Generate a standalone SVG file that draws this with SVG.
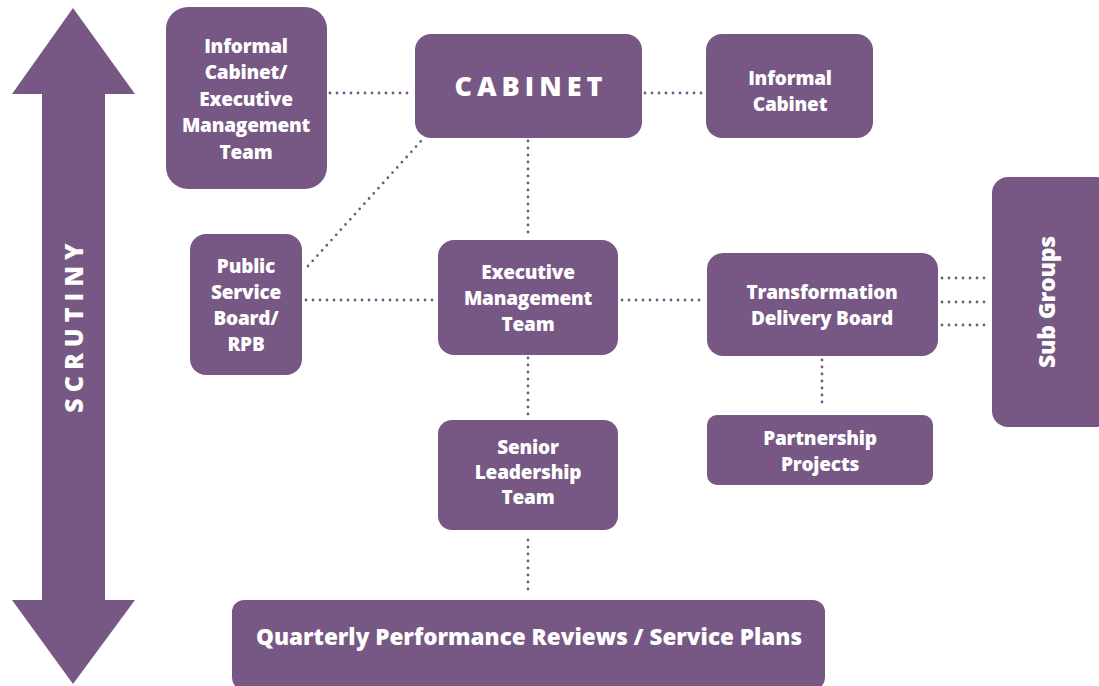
<svg xmlns="http://www.w3.org/2000/svg" width="1099" height="686" viewBox="0 0 1099 686">
<style>
.box{fill:#775885;}
.t{font-family:"Open Sans","Liberation Sans",sans-serif;font-weight:800;fill:#ffffff;text-anchor:middle;font-size:19px;letter-spacing:-0.2px;}
.dot{stroke:#775885;stroke-width:2.8;stroke-linecap:round;stroke-dasharray:0 7;fill:none;}
</style>
<rect width="1099" height="686" fill="#ffffff"/>
<g id="scrutiny">
<polygon class="box" points="73,8 135,94 105,94 105,600 135,600 73,684 12,600 42,600 42,94 12,94"/>
<text class="t" transform="translate(83,325) rotate(-90)" style="font-size:25px;letter-spacing:6px">SCRUTINY</text>
</g>
<g id="connectors">
<line class="dot" x1="330" y1="93" x2="413" y2="93"/>
<line class="dot" x1="645" y1="93" x2="704" y2="93"/>
<line class="dot" x1="308" y1="266" x2="422" y2="140"/>
<line class="dot" x1="528" y1="141" x2="528" y2="238"/>
<line class="dot" x1="306" y1="300" x2="436" y2="300"/>
<line class="dot" x1="622" y1="300" x2="705" y2="300"/>
<line class="dot" x1="528" y1="358" x2="528" y2="418"/>
<line class="dot" x1="942" y1="278" x2="990" y2="278"/>
<line class="dot" x1="942" y1="302" x2="990" y2="302"/>
<line class="dot" x1="942" y1="325" x2="990" y2="325"/>
<line class="dot" x1="822" y1="360" x2="822" y2="408"/>
<line class="dot" x1="528" y1="540" x2="528" y2="592"/>
</g>
<g id="informal-cabinet-emt">
<rect class="box" x="166" y="7" width="161" height="182" rx="22"/>
<text class="t" x="246" y="53">Informal</text>
<text class="t" x="246" y="79">Cabinet/</text>
<text class="t" x="246" y="106">Executive</text>
<text class="t" x="246" y="132">Management</text>
<text class="t" x="246" y="159">Team</text>
</g>
<g id="cabinet">
<rect class="box" x="415" y="34" width="227" height="104" rx="16"/>
<text class="t" x="531" y="96" style="font-size:27px;letter-spacing:5px">CABINET</text>
</g>
<g id="informal-cabinet">
<rect class="box" x="706" y="34" width="167" height="104" rx="16"/>
<text class="t" x="790" y="85">Informal</text>
<text class="t" x="790" y="111">Cabinet</text>
</g>
<g id="psb">
<rect class="box" x="190" y="234" width="112" height="141" rx="16"/>
<text class="t" x="246" y="273">Public</text>
<text class="t" x="246" y="299">Service</text>
<text class="t" x="246" y="325">Board/</text>
<text class="t" x="246" y="351">RPB</text>
</g>
<g id="emt">
<rect class="box" x="438" y="240" width="180" height="115" rx="16"/>
<text class="t" x="528" y="279">Executive</text>
<text class="t" x="528" y="305">Management</text>
<text class="t" x="528" y="331">Team</text>
</g>
<g id="tdb">
<rect class="box" x="707" y="253" width="231" height="103" rx="16"/>
<text class="t" x="822" y="299">Transformation</text>
<text class="t" x="822" y="325">Delivery Board</text>
</g>
<g id="sub-groups">
<rect class="box" x="992" y="177" width="120" height="250" rx="16"/>
<text class="t" transform="translate(1055,302) rotate(-90)" style="font-size:23px">Sub Groups</text>
</g>
<g id="partnership">
<rect class="box" x="707" y="415" width="226" height="70" rx="10"/>
<text class="t" x="820" y="445">Partnership</text>
<text class="t" x="820" y="471">Projects</text>
</g>
<g id="slt">
<rect class="box" x="438" y="420" width="180" height="110" rx="14"/>
<text class="t" x="528" y="454">Senior</text>
<text class="t" x="528" y="479">Leadership</text>
<text class="t" x="528" y="504">Team</text>
</g>
<g id="qpr">
<rect class="box" x="232" y="600" width="593" height="90" rx="12"/>
<text class="t" x="529" y="645" style="font-size:22.5px;letter-spacing:0px">Quarterly Performance Reviews / Service Plans</text>
</g>
</svg>
